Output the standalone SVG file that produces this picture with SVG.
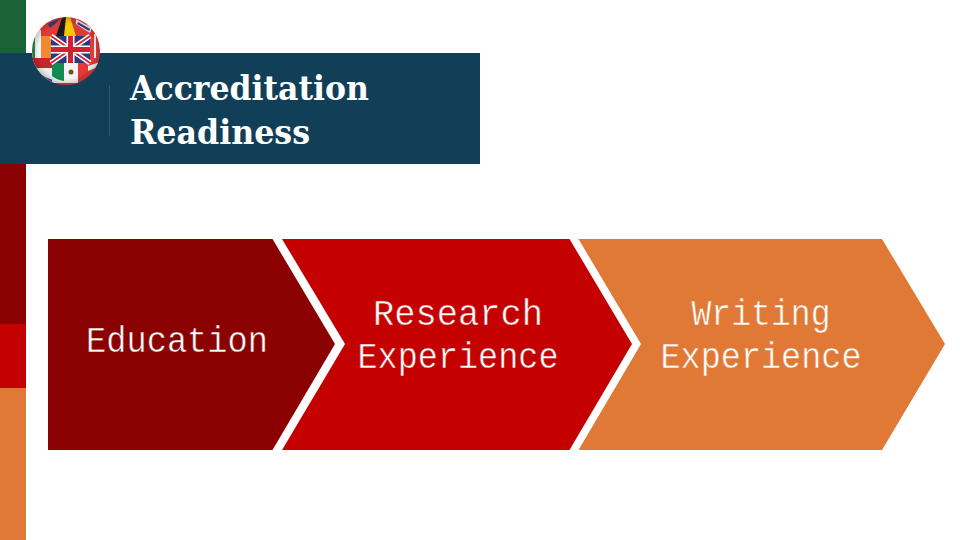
<svg xmlns="http://www.w3.org/2000/svg" width="960" height="540" viewBox="0 0 960 540">
<style>
.t{font-family:"Liberation Mono","DejaVu Sans Mono",monospace;font-size:36px;fill:#fff;text-anchor:middle;stroke-width:0.5px;paint-order:fill stroke}
.h{font-family:"DejaVu Serif",serif;font-weight:bold;font-size:34px;fill:#fff}
</style>
<defs>
<clipPath id="globe"><circle cx="66" cy="51" r="34"/></clipPath>
<radialGradient id="shade" cx="0.5" cy="0.5" r="0.5"><stop offset="0.8" stop-color="#000" stop-opacity="0"/><stop offset="1" stop-color="#000" stop-opacity="0.18"/></radialGradient>
</defs>
<rect width="960" height="540" fill="#fff"/>
<rect x="0" y="0" width="26" height="53" fill="#1a6339"/>
<rect x="0" y="164" width="26" height="160" fill="#8b0000"/>
<rect x="0" y="324" width="26" height="64" fill="#c40000"/>
<rect x="0" y="388" width="26" height="152" fill="#e07836"/>
<rect x="0" y="53" width="480" height="111" fill="#123f58"/>
<line x1="109.500" y1="85" x2="109.500" y2="136" stroke="#2f5a70" stroke-width="1"/>
<g clip-path="url(#globe)">
<rect x="32" y="17" width="68" height="68" fill="#e23a3a"/>
<path d="M32 60 L52 56 L52 85 L32 85Z" fill="#f0f0f0"/>
<path d="M36 70 Q44 78 54 80 L54 85 L36 85Z" fill="#3f4f8f"/>
<rect x="32" y="56" width="20" height="12" fill="#c1272d"/>
<rect x="32" y="30" width="9" height="28" fill="#f6f6f6"/>
<rect x="32" y="30" width="3" height="28" fill="#2e8b4a"/>
<rect x="41" y="36" width="11" height="22" fill="#f08a32"/>
<path d="M56 36 L62 18 L66 17 L66 36Z" fill="#1a1a1a"/>
<path d="M66 17 L70 17 L76 36 L64 36Z" fill="#f7c800"/>
<path d="M48 24 L60 18 L56 23 L50 28Z" fill="#2c3f80"/>
<path d="M76 19 L92 28 L90 33 L76 24Z" fill="#f3f3f3"/>
<path d="M78 22 L90 29 L89 31 L77 24Z" fill="#2c3f80"/>
<rect x="52" y="63" width="26" height="20" fill="#f5f5f5"/>
<path d="M52 63 L64 63 L64 81 Q57 80 52 76Z" fill="#128a50"/>
<circle cx="71" cy="72" r="2.500" fill="#7a4a22"/>
<path d="M88 66 L100 62 L100 66 L88 71Z" fill="#f5f5f5"/>
<rect x="94" y="34" width="2" height="24" fill="#f5f5f5"/>
<rect x="51" y="36" width="39" height="27" fill="#27397f"/>
<path d="M51 36 L90 63 M90 36 L51 63" stroke="#fff" stroke-width="5"/>
<path d="M51 36 L90 63 M90 36 L51 63" stroke="#d3202f" stroke-width="1.800"/>
<path d="M70.500 36 V63 M51 49.500 H90" stroke="#fff" stroke-width="8"/>
<path d="M70.500 36 V63 M51 49.500 H90" stroke="#d3202f" stroke-width="5"/>
<circle cx="66" cy="51" r="34" fill="url(#shade)"/>
</g>
<text class="h" x="130" y="100" textLength="239" lengthAdjust="spacingAndGlyphs">Accreditation</text>
<text class="h" x="130" y="144" textLength="180" lengthAdjust="spacingAndGlyphs">Readiness</text>
<g id="education"><polygon points="48,239 272.500,239 335,344 272.500,450 48,450" fill="#8b0000"/><text class="t" stroke="#8b0000" x="177" y="352" textLength="182" lengthAdjust="spacingAndGlyphs">Education</text></g>
<g id="research"><polygon points="282,239 569.500,239 632,344 569.500,450 282,450 345,344" fill="#c40000"/><text class="t" stroke="#c40000" x="458" y="325" textLength="170" lengthAdjust="spacingAndGlyphs">Research</text><text class="t" stroke="#c40000" x="458" y="368" textLength="201" lengthAdjust="spacingAndGlyphs">Experience</text></g>
<g id="writing"><polygon points="578.500,239 882,239 945,344 882,450 578.500,450 641,344" fill="#e07836"/><text class="t" stroke="#e07836" x="761" y="325" textLength="139" lengthAdjust="spacingAndGlyphs">Writing</text><text class="t" stroke="#e07836" x="761" y="368" textLength="201" lengthAdjust="spacingAndGlyphs">Experience</text></g>
</svg>
